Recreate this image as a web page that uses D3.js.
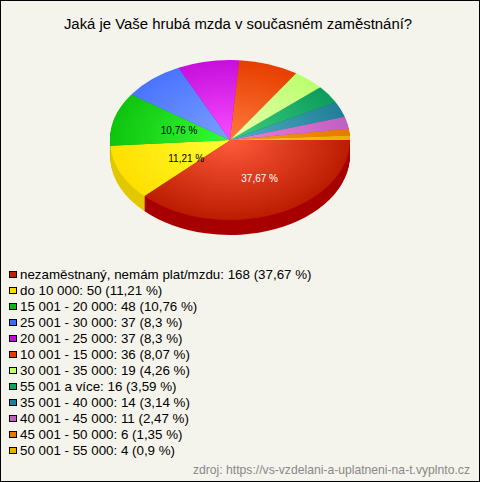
<!DOCTYPE html>
<html>
<head>
<meta charset="utf-8">
<script src="https://cdn.jsdelivr.net/npm/d3@7/dist/d3.min.js"></script>
<style>
  html, body { margin: 0; padding: 0; background: #f5f4ec; }
  svg { display: block; font-family: "Liberation Sans", Arial, sans-serif; }
</style>
</head>
<body>
<div id="graphicContainer"></div>
<script>
const titleText = 'Jaká je Vaše hrubá mzda v současném zaměstnání?';
const sourceText = 'zdroj: https://vs-vzdelani-a-uplatneni-na-t.vyplnto.cz';

const categories = [
  'nezaměstnaný, nemám plat/mzdu', 'do 10 000', '15 001 - 20 000', '25 001 - 30 000',
  '20 001 - 25 000', '10 001 - 15 000', '30 001 - 35 000', '55 001 a více',
  '35 001 - 40 000', '40 001 - 45 000', '45 001 - 50 000', '50 001 - 55 000'
];
const counts = [168, 50, 48, 37, 37, 36, 19, 16, 14, 11, 6, 4];
const percentLabels = ['37,67', '11,21', '10,76', '8,3', '8,3', '8,07', '4,26', '3,59', '3,14', '2,47', '1,35', '0,9'];
const percents = [37.67, 11.21, 10.76, 8.3, 8.3, 8.07, 4.26, 3.59, 3.14, 2.47, 1.35, 0.9];

const edgeColors = ['#bb1c00', '#ffdf00', '#0fc40f', '#4a74ff', '#c60fdc', '#e63e00', '#bcff70', '#0d9c5c', '#1f7f9a', '#c060c0', '#e87800', '#e8b000'];
const centerColors = ['#ff5a3c', '#ffff33', '#33ff33', '#7aa0ff', '#f94dff', '#ff7a3c', '#e8ffb0', '#3cd080', '#50b0c0', '#e880e0', '#ff9a20', '#ffd020'];
const legendColors = ['#c02008', '#ffdc00', '#10b810', '#3c6cf0', '#c010d8', '#e04000', '#c4ff70', '#10a060', '#207f98', '#c060c0', '#e87800', '#e8b000'];
const wallColors = ['#a80000', '#e2c800', '#0a900a', '#3050c0', '#900aa0', '#a83000', '#90c050', '#087040', '#145c70', '#904890', '#b05a00', '#b08400'];

const Width = 480, Height = 482;
const cx = 230, cy = 140, radius = 120, squash = 2 / 3, depth = 15;

const svg = d3.select('#graphicContainer').append('svg')
  .attr('width', Width)
  .attr('height', Height);

svg.append('rect')
  .attr('x', 0.5).attr('y', 0.5)
  .attr('width', Width - 1).attr('height', Height - 1)
  .attr('fill', '#f5f4ec')
  .attr('stroke', '#000');

svg.append('text')
  .attr('x', 238).attr('y', 29)
  .attr('text-anchor', 'middle')
  .attr('font-size', 14.9)
  .attr('fill', '#000')
  .text(titleText);

const pie = d3.pie().sort(null).startAngle(Math.PI / 2).endAngle(Math.PI * 2.5);
const slices = pie(counts);
const arc = d3.arc().innerRadius(0).outerRadius(radius);
const labelArc = d3.arc().innerRadius(60).outerRadius(60);

const defs = svg.append('defs');
slices.forEach((d, i) => {
  const g = defs.append('radialGradient')
    .attr('id', 'slice' + i)
    .attr('gradientUnits', 'userSpaceOnUse')
    .attr('cx', 0).attr('cy', 0).attr('r', radius);
  g.append('stop').attr('offset', 0).attr('stop-color', centerColors[i]);
  g.append('stop').attr('offset', 1).attr('stop-color', edgeColors[i]);
});

// side wall: same slices stacked downwards, back ones first
const wallG = svg.append('g').attr('class', 'walls');
d3.range(depth, 0, -1).forEach(off => {
  wallG.append('g')
    .attr('transform', `translate(${cx},${cy + off}) scale(1,${squash})`)
    .selectAll('path')
    .data(slices.slice().reverse())
    .join('path')
    .attr('d', arc)
    .attr('fill', d => wallColors[d.index]);
});

svg.append('g')
  .attr('class', 'top')
  .attr('transform', `translate(${cx},${cy}) scale(1,${squash})`)
  .selectAll('path')
  .data(slices)
  .join('path')
  .attr('d', arc)
  .attr('fill', d => `url(#slice${d.index})`);

// only the big slices carry a label, the yellow one sits a bit further in
svg.append('g')
  .selectAll('text')
  .data(slices.filter(d => percents[d.index] > 10))
  .join('text')
  .attr('x', d => cx + labelArc.centroid(d)[0] + (d.index === 1 ? 11 : 7))
  .attr('y', d => cy + labelArc.centroid(d)[1] * squash + (d.index === 1 ? 6 : 5))
  .attr('text-anchor', 'middle')
  .attr('font-size', 10)
  .attr('fill', d => d.index === 0 ? '#fff' : '#000')
  .text(d => percentLabels[d.index] + ' %');

const legendY = d3.scalePoint().domain(categories).range([274, 450]);
const legend = svg.append('g').attr('class', 'legend')
  .selectAll('g')
  .data(categories)
  .join('g')
  .attr('transform', d => `translate(0,${legendY(d)})`);

legend.append('rect')
  .attr('x', 9.5).attr('y', -2.5)
  .attr('width', 7).attr('height', 6)
  .attr('fill', (d, i) => legendColors[i])
  .attr('stroke', '#000');

legend.append('text')
  .attr('x', 20).attr('y', 5)
  .attr('font-size', 13.35)
  .attr('fill', '#000')
  .text((d, i) => `${d}: ${counts[i]} (${percentLabels[i]} %)`);

svg.append('text')
  .attr('x', 470).attr('y', 474)
  .attr('text-anchor', 'end')
  .attr('font-size', 12.17)
  .attr('fill', '#888')
  .text(sourceText);
</script>
</body>
</html>
